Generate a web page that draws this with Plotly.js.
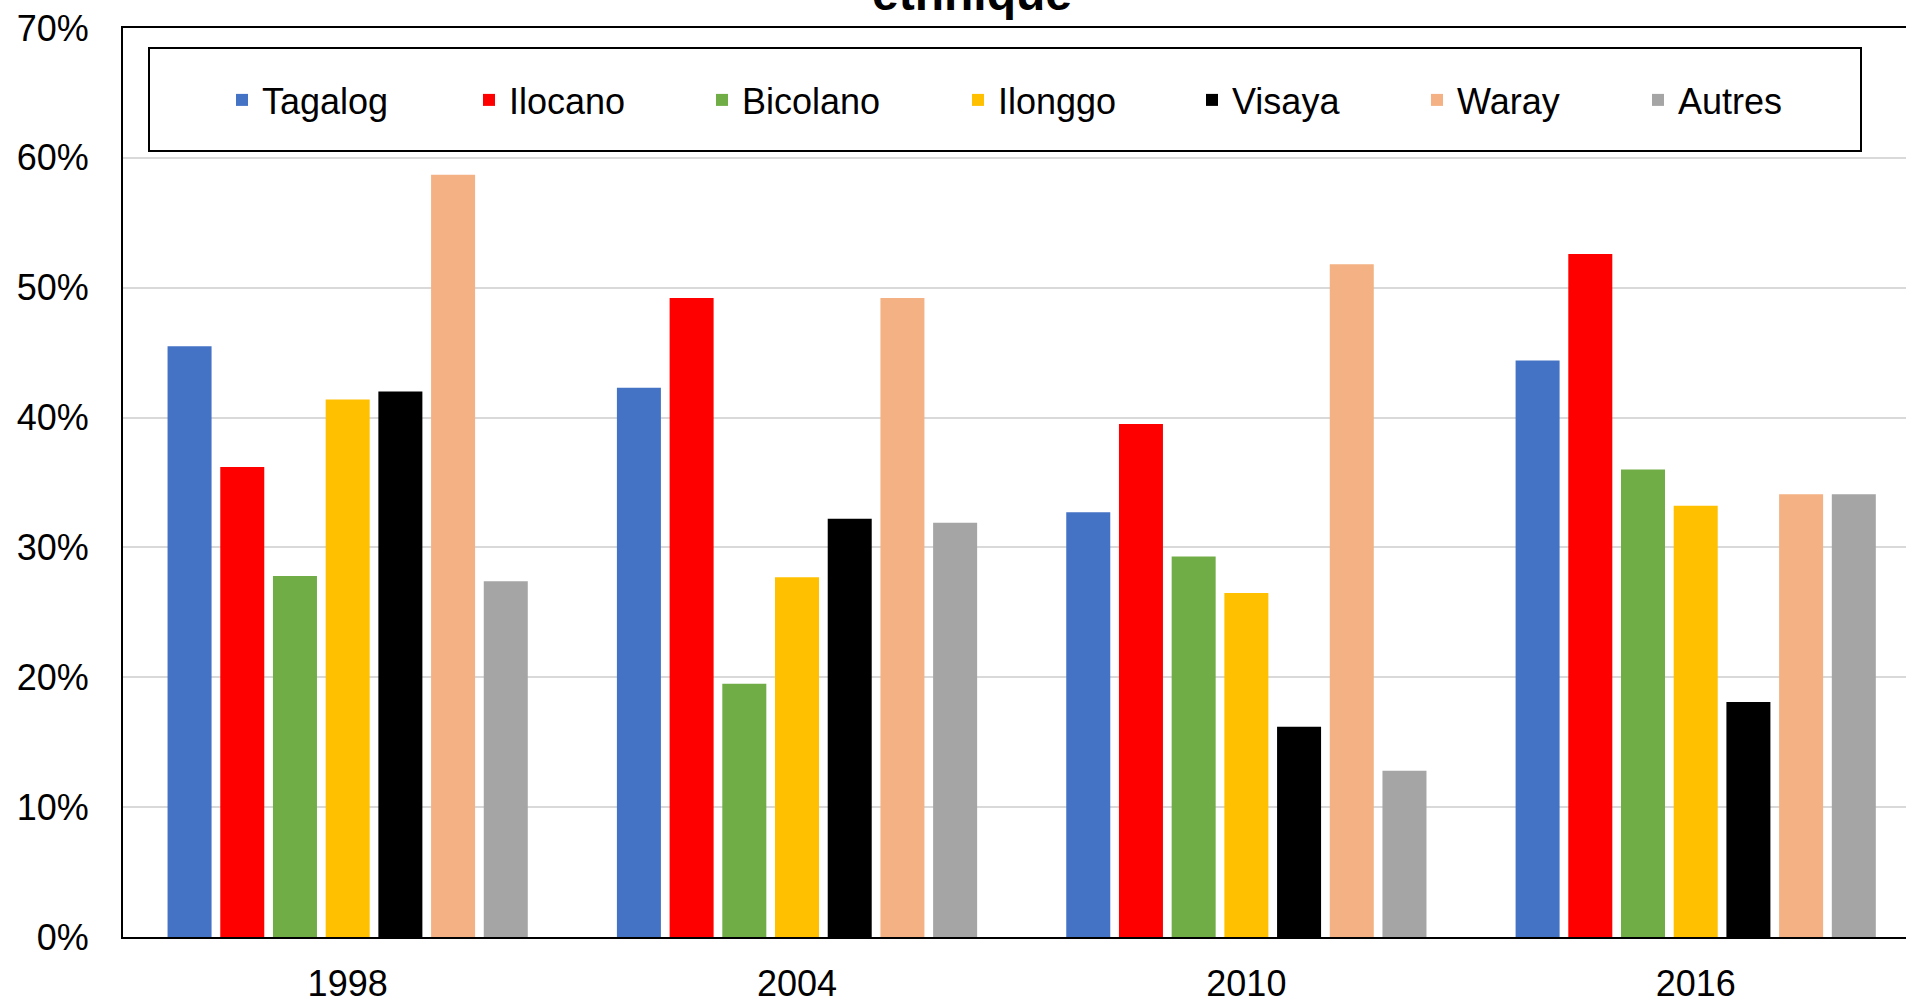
<!DOCTYPE html>
<html>
<head>
<meta charset="utf-8">
<script src="https://cdn.plot.ly/plotly-3.0.1.min.js"></script>
<style>html,body{margin:0;padding:0;background:#fff;}#chart{width:1906px;height:998px;}</style>
</head>
<body>
<div id="chart"></div>
<script>
var years = ['1998', '2004', '2010', '2016'];
var groups = ['Tagalog', 'Ilocano', 'Bicolano', 'Ilonggo', 'Visaya', 'Waray', 'Autres'];
var tagalog  = [45.5, 42.3, 32.7, 44.4];
var ilocano  = [36.2, 49.2, 39.5, 52.6];
var bicolano = [27.8, 19.5, 29.3, 36.0];
var ilonggo  = [41.4, 27.7, 26.5, 33.2];
var visaya   = [42.0, 32.2, 16.2, 18.1];
var waray    = [58.7, 49.2, 51.8, 34.1];
var autres   = [27.4, 31.9, 12.8, 34.1];
var yTicks = [0, 10, 20, 30, 40, 50, 60, 70];
var yTickLabels = ['0%', '10%', '20%', '30%', '40%', '50%', '60%', '70%'];
var titleText = 'ethnique';

var seriesValues = [tagalog, ilocano, bicolano, ilonggo, visaya, waray, autres];
var colors = ['#4472C4', '#FF0000', '#70AD47', '#FFC000', '#000000', '#F4B183', '#A5A5A5'];
var legendLeft = [222, 469, 702, 958, 1192, 1417, 1638];
var W = 1906, H = 998;
var FONT = '"Liberation Sans", Arial, sans-serif';

var traces = groups.map(function (g, i) {
  return {
    type: 'bar', name: g, x: years, y: seriesValues[i],
    marker: { color: colors[i] },
    legend: i === 0 ? 'legend' : 'legend' + (i + 1),
    hoverinfo: 'x+y+name'
  };
});

var layout = {
  width: W, height: H,
  margin: { l: 123, r: 0, t: 28, b: 61, pad: 0, autoexpand: false },
  paper_bgcolor: '#ffffff', plot_bgcolor: '#ffffff',
  font: { family: FONT, size: 36, color: '#000' },
  barmode: 'group', bargap: 0.179, bargroupgap: 0.165,
  title: {
    text: '<b>' + titleText + '</b>', font: { family: FONT, size: 48, color: '#000' },
    xref: 'container', x: 0.51, xanchor: 'center',
    yref: 'container', y: 1 - 10 / H, yanchor: 'bottom'
  },
  xaxis: {
    type: 'category', range: [-0.5, 3.468], fixedrange: true, automargin: false,
    showline: true, linecolor: '#000', linewidth: 2, mirror: true,
    showgrid: false, zeroline: false, ticks: '',
    ticklabelstandoff: 14,
    tickfont: { family: FONT, size: 36, color: '#000' }
  },
  yaxis: {
    range: [0, 70], tickvals: yTicks, ticktext: yTickLabels, automargin: false,
    showline: true, linecolor: '#000', linewidth: 2, mirror: false,
    showgrid: true, gridcolor: '#D9D9D9', gridwidth: 1.5, zeroline: false, ticks: '',
    ticklabelstandoff: 25,
    tickfont: { family: FONT, size: 36, color: '#000' }
  },
  shapes: [{
    type: 'rect', xref: 'paper', yref: 'paper',
    x0: (149 - 123) / 1783, x1: (1861 - 123) / 1783,
    y0: (937 - 151) / 909, y1: (937 - 48) / 909,
    line: { color: '#000', width: 2 }, fillcolor: 'rgba(0,0,0,0)', layer: 'below'
  }],
  showlegend: true
};

groups.forEach(function (g, i) {
  var key = i === 0 ? 'legend' : 'legend' + (i + 1);
  layout[key] = {
    orientation: 'h', xref: 'container', yref: 'container',
    x: legendLeft[i] / W, xanchor: 'left', y: 1 - 100 / H, yanchor: 'middle',
    bgcolor: 'rgba(0,0,0,0)', borderwidth: 0,
    font: { family: FONT, size: 36, color: '#000' }
  };
});

Plotly.newPlot('chart', traces, layout, { displayModeBar: false, responsive: false });
</script>
</body>
</html>
